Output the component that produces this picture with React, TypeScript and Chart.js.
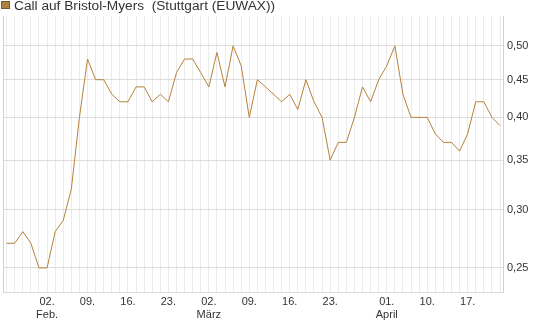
import React, { useEffect, useRef } from "react";
import { Chart, registerables } from "chart.js";

Chart.register(...registerables);

const seriesName = "Call auf Bristol-Myers  (Stuttgart (EUWAX))";

const dates = [
  "2015-01-26", "2015-01-27", "2015-01-28", "2015-01-29", "2015-01-30",
  "2015-02-02", "2015-02-03", "2015-02-04", "2015-02-05", "2015-02-06",
  "2015-02-09", "2015-02-10", "2015-02-11", "2015-02-12", "2015-02-13",
  "2015-02-16", "2015-02-17", "2015-02-18", "2015-02-19", "2015-02-20",
  "2015-02-23", "2015-02-24", "2015-02-25", "2015-02-26", "2015-02-27",
  "2015-03-02", "2015-03-03", "2015-03-04", "2015-03-05", "2015-03-06",
  "2015-03-09", "2015-03-10", "2015-03-11", "2015-03-12", "2015-03-13",
  "2015-03-16", "2015-03-17", "2015-03-18", "2015-03-19", "2015-03-20",
  "2015-03-23", "2015-03-24", "2015-03-25", "2015-03-26", "2015-03-27",
  "2015-03-30", "2015-03-31", "2015-04-01", "2015-04-02", "2015-04-07",
  "2015-04-08", "2015-04-09", "2015-04-10", "2015-04-13", "2015-04-14",
  "2015-04-15", "2015-04-16", "2015-04-17", "2015-04-20", "2015-04-21",
  "2015-04-22", "2015-04-23",
];

const prices = [
  0.27, 0.27, 0.28, 0.27, 0.25,
  0.25, 0.28, 0.29, 0.32, 0.40,
  0.48, 0.45, 0.45, 0.43, 0.42,
  0.42, 0.44, 0.44, 0.42, 0.43,
  0.42, 0.46, 0.48, 0.48, 0.46,
  0.44, 0.49, 0.44, 0.50, 0.47,
  0.40, 0.45, 0.44, 0.43, 0.42,
  0.43, 0.41, 0.45, 0.42, 0.40,
  0.35, 0.37, 0.37, 0.40, 0.44,
  0.42, 0.45, 0.47, 0.50, 0.43,
  0.40, 0.40, 0.40, 0.38, 0.37,
  0.37, 0.36, 0.38, 0.42, 0.42,
  0.40, 0.39,
];

const tickDates = [
  "2015-02-02", "2015-02-09", "2015-02-16", "2015-02-23",
  "2015-03-02", "2015-03-09", "2015-03-16", "2015-03-23",
  "2015-04-01", "2015-04-10", "2015-04-17",
];
const tickTexts: (string | string[])[] = [
  ["02.", "Feb."], "09.", "16.", "23.",
  ["02.", "März"], "09.", "16.", "23.",
  ["01.", "April"], "10.", "17.",
];

const yTicks = [0.25, 0.3, 0.35, 0.4, 0.45, 0.5];
const yMin = 0.2319;
const yMax = 0.549;

const FONT = "'Liberation Sans', Arial, sans-serif";
const LINE = "rgb(181,130,58)";

const legendPlugin = {
  id: "customLegend",
  afterDraw(chart: any) {
    const ctx = chart.ctx;
    ctx.save();
    ctx.fillStyle = "rgb(176,128,64)";
    ctx.fillRect(1, 1, 9, 8);
    ctx.strokeStyle = "rgb(120,90,50)";
    ctx.lineWidth = 1;
    ctx.strokeRect(1.5, 1.5, 8, 7);
    ctx.fillStyle = "#333";
    ctx.font = "13.7px " + FONT;
    ctx.textBaseline = "middle";
    ctx.textAlign = "left";
    ctx.fillText(seriesName, 14, 6);
    ctx.restore();
  },
};

export default function App() {
  const ref = useRef<HTMLCanvasElement | null>(null);
  useEffect(() => {
    if (!ref.current) return;
    const chart = new Chart(ref.current, {
      type: "line",
      data: {
        datasets: [
          {
            label: seriesName,
            data: prices.map((v, i) => ({ x: i, y: v })),
            borderColor: LINE,
            backgroundColor: LINE,
            borderWidth: 1,
            pointRadius: 0,
            tension: 0,
            fill: false,
          },
        ],
      },
      options: {
        responsive: false,
        animation: false,
        devicePixelRatio: 1,
        layout: { padding: { left: 3, top: 16, right: 0, bottom: 0 } },
        plugins: {
          legend: { display: false },
          tooltip: { enabled: false },
        },
        scales: {
          x: {
            type: "linear",
            min: -0.45,
            max: dates.length - 1 + 0.37,
            afterBuildTicks: (scale: any) => {
              scale.ticks = dates.map((_, i) => ({ value: i }));
            },
            afterFit: (scale: any) => {
              scale.height = 35;
            },
            grid: {
              color: "#ebebeb",
              lineWidth: 1,
              drawTicks: false,
            },
            border: { display: true, color: "#dcdcdc" },
            ticks: {
              autoSkip: false,
              maxRotation: 0,
              minRotation: 0,
              padding: 3,
              color: "#333",
              font: { family: FONT, size: 11 },
              callback: (value: any) => {
                const d = dates[Math.round(value)];
                const k = tickDates.indexOf(d);
                return k >= 0 ? tickTexts[k] : "";
              },
            },
          },
          y: {
            type: "logarithmic",
            position: "right",
            min: yMin,
            max: yMax,
            afterBuildTicks: (scale: any) => {
              scale.ticks = yTicks.map((v) => ({ value: v }));
            },
            afterFit: (scale: any) => {
              scale.width = 42;
            },
            grid: {
              color: "#dcdcdc",
              lineWidth: 1,
              drawTicks: false,
            },
            border: { display: true, color: "#d0d0d0" },
            ticks: {
              padding: 4,
              color: "#333",
              font: { family: FONT, size: 11 },
              callback: (value: any) => Number(value).toFixed(2).replace(".", ","),
            },
          },
          yLeft: {
            type: "linear",
            position: "left",
            display: true,
            grid: { display: false, drawTicks: false },
            border: { display: true, color: "#d0d0d0" },
            ticks: { display: false },
            afterFit: (scale: any) => {
              scale.width = 0;
            },
          },
        },
      } as any,
      plugins: [legendPlugin],
    });
    return () => chart.destroy();
  }, []);
  return (
    <div style={{ position: "absolute", left: 0, top: 0, width: 545, height: 327, background: "#fff" }}>
      <canvas ref={ref} width={545} height={327} style={{ display: "block" }} />
    </div>
  );
}
